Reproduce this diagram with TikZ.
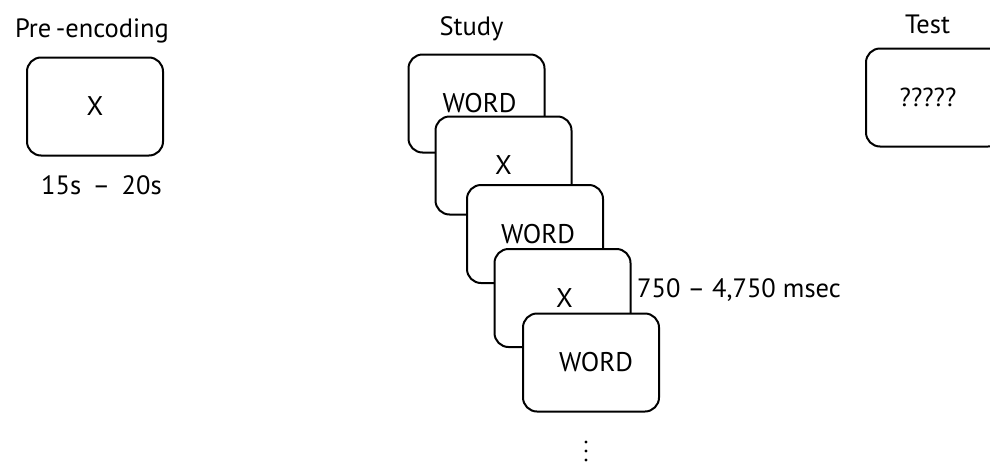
\documentclass[tikz,border=0pt]{standalone}
\usepackage{fontspec}
\setmainfont{PT Sans}
\begin{document}
\begin{tikzpicture}[x=1pt,y=-1pt,
  card/.style={draw=black, line width=2pt, fill=white, rounded corners=14pt,
    minimum width=136pt, minimum height=98pt, inner sep=0pt, font=\fontsize{27}{30}\selectfont},
  lbl/.style={inner sep=0pt, anchor=base, font=\fontsize{26.5}{30}\selectfont},
  dotmark/.style={fill=black, draw=none}]
\useasboundingbox (0,0) rectangle (990,461);
\clip (0,0) rectangle (990,461);
% Pre-encoding
\node[lbl] (pretitle) at (92,37) {Pre\,-encoding};
\node[card] (pre) at (95,106.5) {X};
\node[lbl] (pretime) at (101.5,194) {15s\, –\, 20s};
% Study
\node[lbl] (studytitle) at (471.5,35) {Study};
\node[card] (s1) at (476.5,103.5) {\hspace*{6pt}WORD};
\node[card] (s2) at (503.5,165.5) {X};
\node[card] (s3) at (535,234) {\hspace*{6pt}WORD};
\node[card] (s4) at (562.5,298) {\hspace*{4pt}X};
\node[card] (s5) at (591,362.5) {\hspace*{10pt}WORD};
\node[lbl, anchor=base west] (dur) at (637,297) {750 – 4,750 msec};
\fill[dotmark] (586,442) circle (1.7) (586,451) circle (1.7) (586,460) circle (1.7);
% Test
\node[lbl] (testtitle) at (927.5,33) {Test};
\node[card] (test) at (934,97.5) {};
\node[inner sep=0pt, font=\fontsize{26}{30}\selectfont] (testtext) at (928,97) {?????};
\end{tikzpicture}
\end{document}
